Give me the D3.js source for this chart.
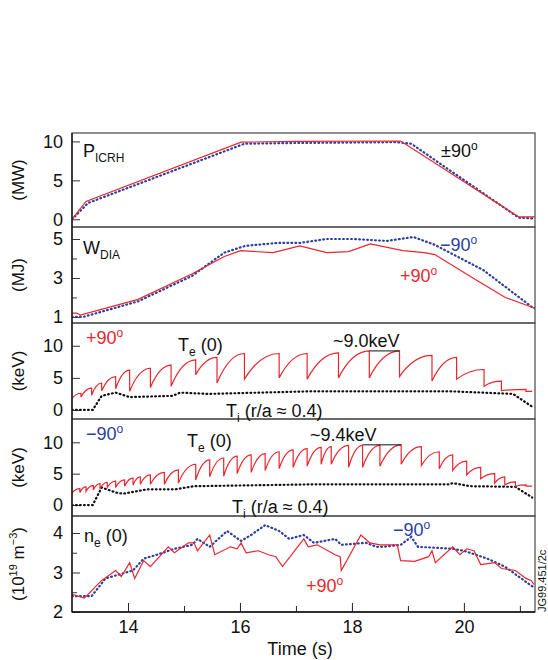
<!DOCTYPE html>
<html><head><meta charset="utf-8">
<script src="https://cdn.jsdelivr.net/npm/d3@7"></script>
<style>body{margin:0;background:#fff}text{font-family:"Liberation Sans",Arial,sans-serif}</style>
</head><body><svg id="c" width="548" height="660"></svg>
<script>
// ---- data ----
const picrhRed = [[13.0,0],[13.25,2.3],[16.02,9.9],[17.0,10.0],[18.87,10.05],[20.98,0.3],[21.27,0.3]];
const picrhBlue = [[13.0,0],[13.29,2.1],[16.08,9.7],[17.0,9.8],[18.81,9.9],[19.06,9.7],[20.98,0.2],[21.27,0.1]];
const wdiaRed = [[13.0,1.2],[13.08,1.2],[13.15,1.1],[14.18,1.9],[15.14,3.2],[15.72,4.1],[16.01,4.4],[16.59,4.3],[17.07,4.65],[17.55,4.3],[17.94,4.35],[18.33,4.75],[18.91,4.4],[19.29,4.3],[19.48,4.2],[20.16,3.0],[20.74,2.0],[21.22,1.5],[21.27,1.45]];
const wdiaBlue = [[13.0,1.0],[13.2,1.0],[14.18,1.8],[15.14,3.1],[15.72,4.3],[16.1,4.65],[16.68,4.8],[17.07,4.8],[17.55,5.0],[18.04,5.0],[18.62,4.9],[19.1,5.1],[19.48,4.7],[20.35,3.4],[21.22,1.5],[21.27,1.45]];
// Te(0) sawtooth, +90 case: crash times, value before crash, value after crash
const te90pCrash = [13.16,13.35,13.53,13.78,14.03,14.40,14.77,15.21,15.59,16.08,16.70,17.20,17.76,18.31,18.85,19.43,19.87,20.36,20.67,21.11];
const te90pPeak  = [2.6,3.4,4.2,5.2,6.2,6.5,7.0,7.8,8.2,8.8,8.8,8.8,8.9,9.2,9.2,8.5,8.2,6.3,4.5,3.2];
const te90pBase  = [2.0,2.3,3.0,3.3,2.9,3.5,3.7,5.5,4.2,4.8,5.0,4.8,5.0,5.0,5.2,4.5,4.8,3.7,3.0,2.9];
const ti90p = [[13.0,0],[13.37,0],[13.53,2.2],[13.78,2.7],[14.03,2.0],[14.80,2.2],[14.93,2.7],[15.43,2.5],[17.26,2.9],[19.77,2.9],[20.88,2.5],[21.22,0.5]];
// Te(0) sawtooth, -90 case
const te90mCrash = [13.14,13.25,13.38,13.50,13.63,13.78,13.94,14.09,14.22,14.40,14.65,14.90,15.21,15.46,15.71,15.95,16.20,16.45,16.70,16.95,17.20,17.45,17.63,17.94,18.19,18.50,18.88,19.24,19.56,19.80,20.05,20.30,20.55,20.73,20.92,21.11];
const te90mPeak  = [2.6,2.9,3.1,3.4,3.6,3.8,4.0,4.3,4.5,4.8,5.2,5.6,6.5,7.2,7.5,7.8,8.0,8.2,8.5,8.8,9.0,9.2,9.3,9.5,9.5,9.5,9.6,9.3,8.5,8.0,7.0,6.0,5.0,4.5,3.7,3.2];
const te90mBase  = [2.0,2.2,2.4,2.6,2.8,2.8,3.0,3.2,3.3,3.3,3.3,3.5,4.0,4.5,4.6,5.0,5.2,5.5,5.8,6.0,6.2,6.5,6.5,6.0,6.0,6.2,6.5,6.3,5.8,5.5,4.8,4.2,3.5,3.2,3.0,3.0];
const ti90m = [[13.0,0],[13.37,0],[13.53,2.8],[13.78,2.0],[13.91,1.8],[14.34,2.5],[14.84,2.5],[15.18,3.0],[17.32,3.3],[19.74,3.3],[19.80,3.5],[20.12,3.0],[20.92,2.9],[21.22,1.2]];
const neRed = [[13.0,2.45],[13.22,2.35],[13.53,2.8],[13.78,3.05],[13.88,2.9],[14.03,3.25],[14.12,2.85],[14.28,3.3],[14.40,3.15],[14.72,3.65],[14.83,3.5],[15.08,3.75],[15.18,3.75],[15.24,3.55],[15.46,3.95],[15.55,3.45],[15.83,3.65],[15.95,3.6],[16.02,3.75],[16.11,3.5],[16.33,3.55],[16.51,3.45],[16.64,3.4],[16.76,3.15],[17.14,3.85],[17.22,3.65],[17.38,3.7],[17.70,3.45],[17.79,3.4],[17.81,3.05],[18.16,3.95],[18.32,3.75],[18.50,3.7],[18.81,3.7],[18.87,3.3],[19.12,3.28],[19.37,3.4],[19.43,3.55],[19.49,3.25],[19.80,3.65],[19.93,3.45],[20.05,3.6],[20.18,3.55],[20.30,3.2],[20.55,3.25],[20.67,3.1],[20.92,3.05],[21.11,2.85],[21.20,2.8],[21.25,2.7]];
const neBlue = [[13.0,2.4],[13.35,2.4],[13.60,2.85],[14.09,3.05],[14.28,3.35],[14.52,3.45],[14.83,3.6],[15.15,3.7],[15.24,3.85],[15.46,3.65],[15.77,4.05],[16.02,3.8],[16.20,3.95],[16.45,4.2],[16.70,4.05],[16.88,3.85],[17.14,3.95],[17.32,3.75],[17.70,3.85],[17.81,3.7],[18.25,3.75],[18.44,3.65],[18.56,3.65],[18.87,3.7],[19.06,3.9],[19.18,3.65],[19.80,3.6],[20.0,3.55],[20.42,3.35],[20.73,3.15],[21.22,2.65],[21.27,2.6]];
const xTicks = [14,16,18,20];
const xMinor = [15,17,19,21];

// ---- layout ----
const RED = '#e8262e', BLUE = '#2b3f9e';
const svg = d3.select('#c');
const x = d3.scaleLinear().domain([13, 21.27]).range([72, 535]);
const panels = [
  {top:133, bot:227, dom:[-0.99,11.08], ticks:[0,5,10], minor:[], label:'(MW)'},
  {top:227, bot:323, dom:[0.69,5.615], ticks:[1,3,5], minor:[2,4], label:'(MJ)'},
  {top:323, bot:419, dom:[-1.41,13.55], ticks:[0,5,10], minor:[], label:'(keV)'},
  {top:419, bot:516, dom:[-1.75,13.72], ticks:[0,5,10], minor:[], label:'(keV)'},
  {top:516, bot:612, dom:[2,4.43], ticks:[2,3,4], minor:[2.5,3.5], label:'ne'}
];
panels.forEach(p => { p.y = d3.scaleLinear().domain(p.dom).range([p.bot, p.top]); });

panels.forEach((p, i) => {
  const g = svg.append('g');
  g.append('g').attr('transform', `translate(72,0)`)
    .call(d3.axisLeft(p.y).tickValues(p.ticks).tickSize(-8).tickPadding(9).tickFormat(d3.format('d')))
    .call(a => { a.select('.domain').remove(); a.selectAll('text').attr('font-size', 18).attr('fill', '#111'); a.selectAll('line').attr('stroke', '#333'); });
  g.append('g').attr('transform', `translate(72,0)`)
    .call(d3.axisLeft(p.y).tickValues(p.minor).tickSize(-5).tickFormat(''))
    .call(a => { a.select('.domain').remove(); a.selectAll('line').attr('stroke', '#333'); });
  if (i === 4) {
    g.append('g').attr('transform', `translate(0,${p.bot})`)
      .call(d3.axisBottom(x).tickValues(xTicks).tickSize(-9).tickPadding(8).tickFormat(d3.format('d')))
      .call(a => { a.select('.domain').remove(); a.selectAll('text').attr('font-size', 18).attr('fill', '#111'); a.selectAll('line').attr('stroke', '#222'); });
    g.append('g').attr('transform', `translate(0,${p.bot})`)
      .call(d3.axisBottom(x).tickValues(xMinor).tickSize(-6).tickFormat(''))
      .call(a => { a.select('.domain').remove(); a.selectAll('line').attr('stroke', '#222'); });
  }
  const cy = (p.top + p.bot) / 2;
  const lab = g.append('text').attr('transform', `translate(24,${cy}) rotate(-90)`)
    .attr('text-anchor', 'middle').attr('font-size', 17).attr('fill', '#111');
  if (p.label === 'ne') {
    lab.append('tspan').text('(10');
    lab.append('tspan').attr('font-size', 11).attr('dy', -7).text('19');
    lab.append('tspan').attr('dy', 7).text(' m');
    lab.append('tspan').attr('font-size', 11).attr('dy', -7).text('−3');
    lab.append('tspan').attr('dy', 7).text(')');
  } else lab.text(p.label);
});

const line = p => d3.line().x(d => x(d[0])).y(d => p.y(d[1]));
svg.append('clipPath').attr('id', 'pc').append('rect').attr('x', 72).attr('y', 133).attr('width', 463).attr('height', 479);
function draw(p, data, color, dotted) {
  svg.append('path').datum(data).attr('clip-path', 'url(#pc)').attr('d', line(p)).attr('fill', 'none')
    .attr('stroke', color).attr('stroke-width', dotted ? 2.2 : 1.2)
    .attr('stroke-dasharray', dotted ? '0.8,3.2' : null).attr('stroke-linecap', dotted ? 'round' : 'butt');
}
// sawtooth: each tooth rises then levels off before the crash
function drawSaw(p, crash, peak, base, start, end) {
  const path = d3.path();
  let t0 = start[0];
  path.moveTo(x(t0), p.y(start[1]));
  crash.forEach((t, i) => {
    path.quadraticCurveTo(x(t0 + (t - t0) * 0.45), p.y(peak[i]), x(t), p.y(peak[i]));
    path.lineTo(x(t), p.y(base[i]));
    t0 = t;
  });
  path.quadraticCurveTo(x(t0 + (end[0] - t0) * 0.45), p.y(end[1]), x(end[0]), p.y(end[1]));
  svg.append('path').attr('clip-path', 'url(#pc)').attr('d', path.toString()).attr('fill', 'none')
    .attr('stroke', RED).attr('stroke-width', 1.2);
}
const [p1, p2, p3, p4, p5] = panels;
draw(p1, picrhBlue, BLUE, true); draw(p1, picrhRed, RED, false);
draw(p2, wdiaBlue, BLUE, true); draw(p2, wdiaRed, RED, false);
draw(p3, ti90p, '#111', true);
drawSaw(p3, te90pCrash, te90pPeak, te90pBase, [13.0, 1.8], [21.22, 2.9]);
draw(p4, ti90m, '#111', true);
drawSaw(p4, te90mCrash, te90mPeak, te90mBase, [13.0, 1.9], [21.22, 3.0]);
draw(p5, neBlue, BLUE, true); draw(p5, neRed, RED, false);

// frames
panels.forEach(p => {
  svg.append('rect').attr('x', 72).attr('y', p.top).attr('width', 463).attr('height', p.bot - p.top)
    .attr('fill', 'none').attr('stroke', '#555').attr('stroke-width', 1.3);
});
svg.append('line').attr('x1', 72).attr('x2', 72).attr('y1', 133).attr('y2', 612).attr('stroke', '#111').attr('stroke-width', 1.3);
svg.append('line').attr('x1', 72).attr('x2', 535).attr('y1', 612).attr('y2', 612).attr('stroke', '#111').attr('stroke-width', 1.5);

// annotations
function txt(xp, yp, s, opts) {
  opts = opts || {};
  const t = svg.append('text').attr('x', xp).attr('y', yp).attr('font-size', opts.size || 18)
    .attr('fill', opts.color || '#111').attr('text-anchor', opts.anchor || 'start');
  s.forEach(part => {
    const sp = t.append('tspan').text(part[0]);
    if (part[1] === 'sub') sp.attr('font-size', 12).attr('dy', 5);
    if (part[1] === 'sup') sp.attr('font-size', 12).attr('dy', -7);
    if (part[1] === 'back') sp.attr('dy', part[2]);
  });
  return t;
}
txt(83, 157, [['P'], ['ICRH', 'sub']]);
txt(441, 157, [['±90'], ['o', 'sup']]);
txt(83, 254, [['W'], ['DIA', 'sub']]);
txt(440, 251, [['−90'], ['o', 'sup']], {color: BLUE});
txt(400, 282, [['+90'], ['o', 'sup']], {color: RED});
txt(86, 344, [['+90'], ['o', 'sup']], {color: RED});
txt(178, 351, [['T'], ['e', 'sub'], [' (0)', 'back', -5]]);
txt(333, 347, [['~9.0keV']]);
txt(226, 417, [['T'], ['i', 'sub'], [' (r/a ≈ 0.4)', 'back', -5]]);
txt(86, 440, [['−90'], ['o', 'sup']], {color: BLUE});
txt(187, 447, [['T'], ['e', 'sub'], [' (0)', 'back', -5]]);
txt(310, 441, [['~9.4keV']]);
txt(232, 513, [['T'], ['i', 'sub'], [' (r/a ≈ 0.4)', 'back', -5]]);
txt(84, 542, [['n'], ['e', 'sub'], [' (0)', 'back', -5]]);
txt(393, 536, [['−90'], ['o', 'sup']], {color: BLUE});
txt(306, 592, [['+90'], ['o', 'sup']], {color: RED});
svg.append('line').attr('x1', x(18.31)).attr('x2', x(18.85)).attr('y1', p3.y(9.2)).attr('y2', p3.y(9.2)).attr('stroke', '#111');
svg.append('line').attr('x1', x(18.19)).attr('x2', x(18.88)).attr('y1', p4.y(9.6)).attr('y2', p4.y(9.6)).attr('stroke', '#111');
svg.append('text').attr('x', 300).attr('y', 655).attr('text-anchor', 'middle').attr('font-size', 18).attr('fill', '#111').text('Time (s)');
svg.append('text').attr('transform', 'translate(546,612) rotate(-90)').attr('font-size', 11).attr('fill', '#111').text('JG99.451/2c');
</script></body></html>
